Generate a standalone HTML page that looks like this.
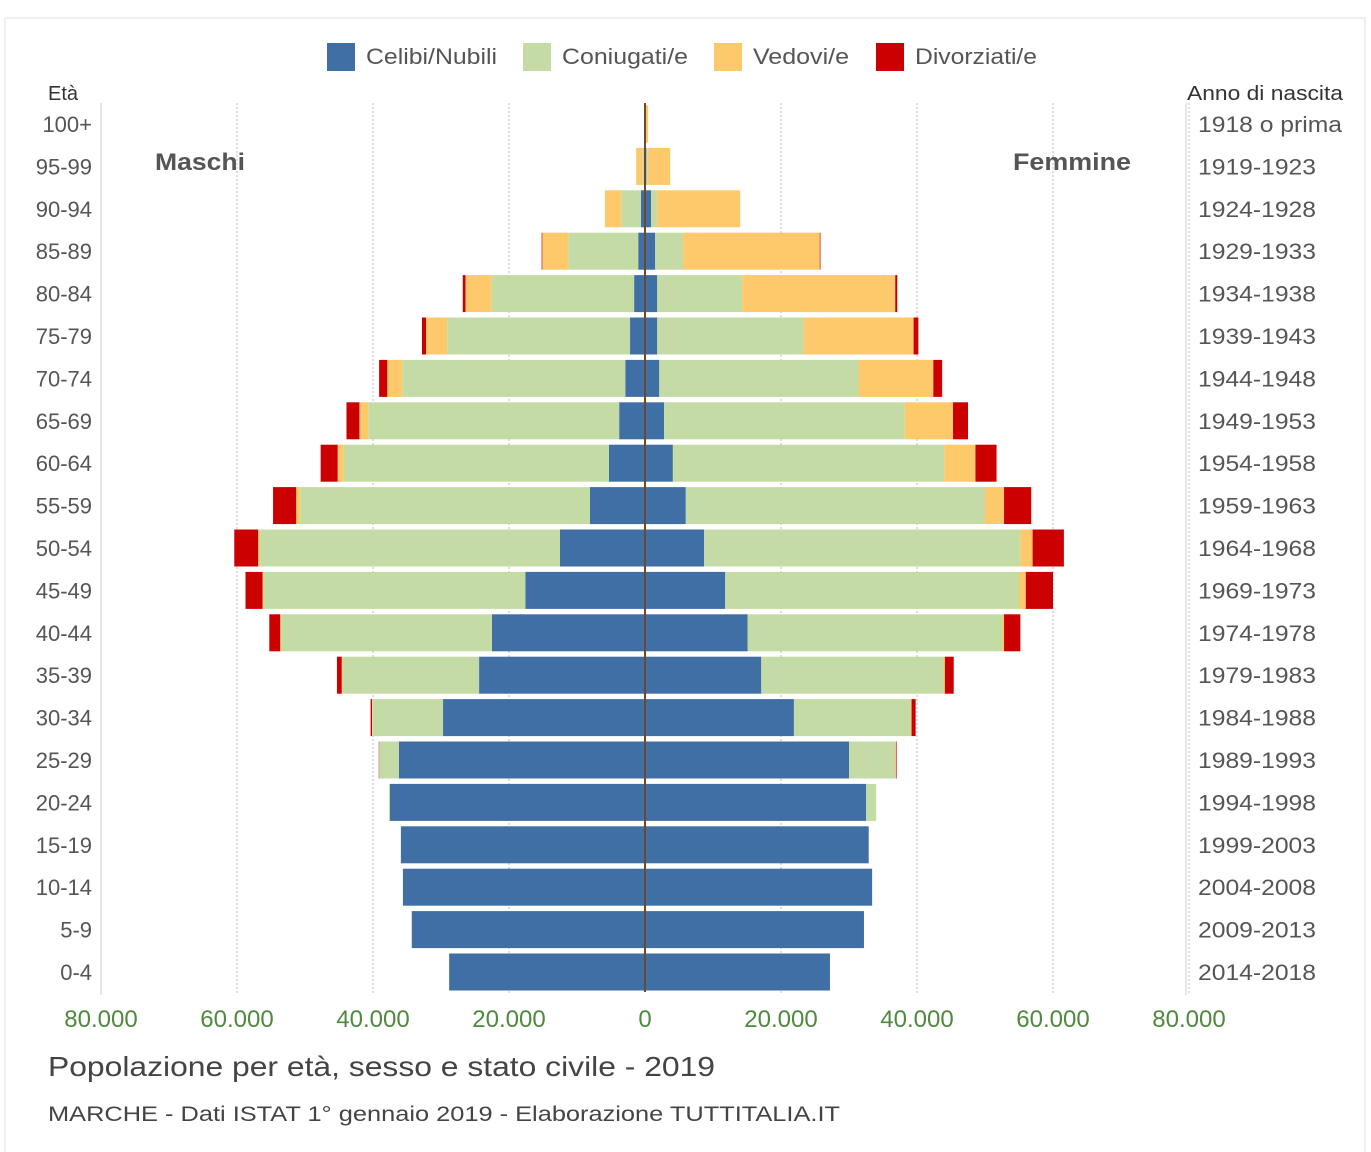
<!DOCTYPE html>
<html><head><meta charset="utf-8"><style>
body{margin:0;background:#fff;font-family:"Liberation Sans",sans-serif}
svg{display:block}
</style></head><body>
<svg id="c" width="1371" height="1152" xmlns="http://www.w3.org/2000/svg">
<rect x="5" y="18" width="1360" height="1140" fill="#fff" stroke="#e2e2e2"/>
</svg>
<script>
const ages=["0-4","5-9","10-14","15-19","20-24","25-29","30-34","35-39","40-44","45-49","50-54","55-59","60-64","65-69","70-74","75-79","80-84","85-89","90-94","95-99","100+"];
const births=["2014-2018","2009-2013","2004-2008","1999-2003","1994-1998","1989-1993","1984-1988","1979-1983","1974-1978","1969-1973","1964-1968","1959-1963","1954-1958","1949-1953","1944-1948","1939-1943","1934-1938","1929-1933","1924-1928","1919-1923","1918 o prima"];
const mCel=[28800,34300,35600,35900,37500,36200,29700,24400,22500,17600,12500,8100,5300,3800,2900,2200,1600,1000,600,100,20];
const mCon=[0,0,0,0,150,2900,10400,20100,31000,38500,44100,42600,39000,36900,32800,26900,21000,10300,2900,300,20];
const mVed=[0,0,0,0,0,0,50,100,150,150,300,600,900,1300,2200,3100,3800,3800,2400,900,100];
const mDiv=[0,0,0,0,0,50,200,700,1600,2500,3500,3400,2500,1900,1200,600,400,100,0,0,0];
const fCel=[27200,32200,33400,32900,32500,30000,21900,17100,15100,11800,8700,6000,4100,2800,2100,1800,1800,1500,900,200,30];
const fCon=[0,0,0,0,1500,6800,17200,26800,37400,43200,46500,44000,39900,35400,29300,21500,12500,4100,900,200,20];
const fVed=[0,0,0,0,0,100,100,200,300,1000,1800,2800,4600,7100,11000,16200,22500,20100,12200,3300,400];
const fDiv=[0,0,0,0,0,100,600,1300,2400,4000,4600,4000,3100,2200,1300,700,300,100,0,0,0];
const ticks=[-80000,-60000,-40000,-20000,0,20000,40000,60000,80000];
const colors=["#3f6fa5","#c5dba6","#fdc96a","#cc0000"];
const names=["Celibi/Nubili","Coniugati/e","Vedovi/e","Divorziati/e"];
const svg=document.getElementById('c');const NS="http://www.w3.org/2000/svg";
const cx=645,k=544/80000;
const X=v=>cx+v*k;
const Y=i=>972-i*42.4;
function mk(t,a,txt){const e=document.createElementNS(NS,t);for(const p in a)e.setAttribute(p,a[p]);if(txt!=null)e.textContent=txt;svg.appendChild(e);return e;}
ticks.forEach(t=>{if(t!==0){const g=mk('line',{x1:X(t),x2:X(t),y1:103,y2:995,stroke:'#bbb','stroke-dasharray':'2,2'});

}
const l=mk('text',{x:X(t),y:1027,'font-size':24,fill:'#4e8a3e','text-anchor':'middle'},t===0?'0':(Math.abs(t)/1000).toFixed(3));

});
[101,1186].forEach(x=>{const a=mk('line',{x1:x,x2:x,y1:103,y2:995,stroke:'#ccc'});

});
const segsM=[mCel,mCon,mVed,mDiv],segsF=[fCel,fCon,fVed,fDiv];
ages.forEach((a,i)=>{
 const y=Y(i)-18.5;let acc=0;
 segsM.forEach((s,j)=>{const v=s[i];if(v>0){const r=mk('rect',{x:X(-(acc+v)),y:y,width:v*k,height:37,fill:colors[j]});
 
 }acc+=v;});
 acc=0;
 segsF.forEach((s,j)=>{const v=s[i];if(v>0){const r=mk('rect',{x:X(acc),y:y,width:v*k,height:37,fill:colors[j]});
 
 }acc+=v;});
 const t=mk('text',{x:92,y:Y(i)+8,'font-size':22,fill:'#555','text-anchor':'end'},a);
 
 
 const b=mk('text',{x:1198,y:Y(i)+8,'font-size':22,fill:'#555',textLength:(births[i].length>9?144:118),lengthAdjust:'spacingAndGlyphs'},births[i]);
 
 
});
const cl=mk('line',{x1:cx,x2:cx,y1:103,y2:992,stroke:'#6b4a2a','stroke-width':2});


const lx=[327,523,714,876];
const lw=[131,126,96,122];
names.forEach((n,j)=>{const r=mk('rect',{x:lx[j],y:43,width:28,height:28,fill:colors[j]});


const t=mk('text',{x:lx[j]+39,y:64,'font-size':22,fill:'#555',textLength:lw[j],lengthAdjust:'spacingAndGlyphs'},n);

});
const labels=[[48,100,20,'Età','#333','normal',0,'eta-axis-title'],[1187,100,20,'Anno di nascita','#333','normal',156,'birth-axis-title'],
[155,170,24,'Maschi','#555','bold',90,'males-label'],[1013,170,24,'Femmine','#555','bold',118,'females-label'],
[48,1076,28,'Popolazione per età, sesso e stato civile - 2019','#444','normal',667,'chart-title'],
[48,1121,21,'MARCHE - Dati ISTAT 1° gennaio 2019 - Elaborazione TUTTITALIA.IT','#444','normal',792,'chart-subtitle']];
labels.forEach(l=>{const at={x:l[0],y:l[1],'font-size':l[2],fill:l[4],'font-weight':l[5]};if(l[6]){at.textLength=l[6];at.lengthAdjust='spacingAndGlyphs';}
const t=mk('text',at,l[3]);

});
</script>
</body></html>
